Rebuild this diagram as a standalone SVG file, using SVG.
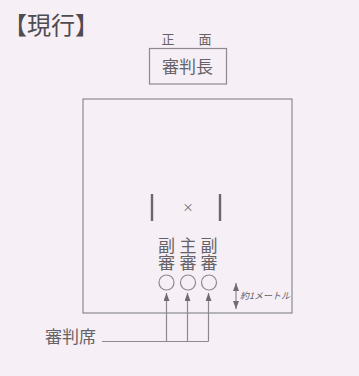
<svg xmlns="http://www.w3.org/2000/svg" width="359" height="376" viewBox="0 0 359 376">
<style>
.ln{fill:none;stroke:#8c8a8e;stroke-width:1.2}
.t{font-family:"Noto Sans CJK JP","Liberation Serif",sans-serif;fill:#646266}
.c{text-anchor:middle}
.v{writing-mode:vertical-rl;font-size:17px}
</style>
<defs>
<marker id="ah" viewBox="0 0 8 6" refX="8" refY="3" markerWidth="8" markerHeight="6" markerUnits="userSpaceOnUse" orient="auto-start-reverse">
<path d="M0,0 L8,3 L0,6 Z" fill="#6e6c70"/>
</marker>
</defs>
<rect width="359" height="376" fill="#f6eff5"/>
<text class="t" x="3" y="34" font-size="24" style="fill:#4e4c50">【現行】</text>
<g id="front">
<text class="t c" x="168" y="44" font-size="13">正</text>
<text class="t c" x="205" y="44" font-size="13">面</text>
</g>
<g id="chief">
<rect class="ln" x="149.5" y="48.5" width="77" height="35.5"/>
<text class="t c" x="187.5" y="73" font-size="17">審判長</text>
</g>
<g id="court">
<rect class="ln" x="83" y="99" width="209" height="214"/>
<line x1="152" y1="194" x2="152" y2="221" stroke="#6a686c" stroke-width="2.4"/>
<line x1="220" y1="194" x2="220" y2="221" stroke="#6a686c" stroke-width="2.4"/>
<text class="t c" x="188" y="212" font-size="11">×</text>
</g>
<g id="sub1">
<text class="t v" x="166.5" y="237">副審</text>
<circle class="ln" cx="166.5" cy="282.5" r="7.5"/>
</g>
<g id="main">
<text class="t v" x="188" y="237">主審</text>
<circle class="ln" cx="188" cy="282.5" r="7.5"/>
</g>
<g id="sub2">
<text class="t v" x="209" y="237">副審</text>
<circle class="ln" cx="209" cy="282.5" r="7.5"/>
</g>
<g id="distance">
<line class="ln" x1="236" y1="283" x2="236" y2="309" stroke-width="1" marker-start="url(#ah)" marker-end="url(#ah)"/>
<text class="t" x="240" y="299" font-size="9" font-style="italic">約1メートル</text>
</g>
<g id="seat">
<text class="t" x="45" y="343" font-size="17">審判席</text>
</g>
<g id="connectors">
<path class="ln" d="M102,341.5 H208.5"/>
<line class="ln" x1="166.5" y1="341.5" x2="166.5" y2="293" marker-end="url(#ah)"/>
<line class="ln" x1="187.5" y1="341.5" x2="187.5" y2="293" marker-end="url(#ah)"/>
<line class="ln" x1="208.5" y1="341.5" x2="208.5" y2="293" marker-end="url(#ah)"/>
</g>
</svg>
